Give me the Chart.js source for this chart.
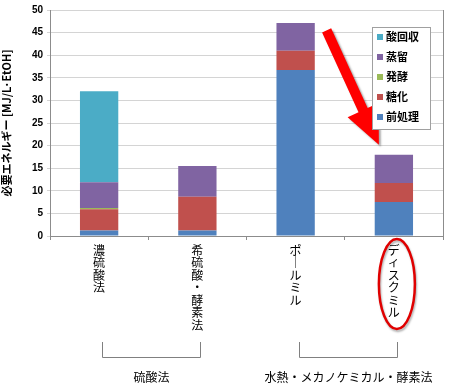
<!DOCTYPE html>
<html>
<head>
<meta charset="utf-8">
<script src="https://cdn.jsdelivr.net/npm/chart.js@4"></script>
<style>
  html, body { margin: 0; padding: 0; background: #fff; }
  #wrap { width: 450px; height: 386px; }
</style>
</head>
<body>
<div id="wrap"><canvas id="energyChart"></canvas></div>
<script>
const categories = [
  ['濃', '硫', '酸', '法'],
  ['希', '硫', '酸', '・', '酵', '素', '法'],
  ['ポ', '｜', 'ル', 'ミ', 'ル'],
  ['デ', 'ィ', 'ス', 'ク', 'ミ', 'ル']
];

const pretreat = [1.2, 1.2, 36.7, 7.5];
const saccharify = [4.7, 7.5, 4.3, 4.2];
const ferment = [0.3, 0, 0, 0];
const distill = [5.7, 6.8, 6.1, 6.3];
const acidRecovery = [20.1, 0, 0, 0];

const groups = [
  { label: '硫酸法', from: 0, to: 1 },
  { label: '水熱・メカノケミカル・酵素法', from: 2, to: 3 }
];

const jp = '"Noto Sans CJK JP", sans-serif';

// legend inside the plot, reversed order like the original
const boxLegend = {
  id: 'boxLegend',
  afterDraw(chart) {
    const ctx = chart.ctx;
    const a = chart.chartArea;
    const x0 = a.right - 71, y0 = a.top + 17;
    ctx.save();
    ctx.fillStyle = '#fff';
    ctx.strokeStyle = '#a0a0a0';
    ctx.lineWidth = 1;
    ctx.fillRect(x0, y0, 58, 102);
    ctx.strokeRect(x0 + 0.5, y0 + 0.5, 58, 102);
    const sets = chart.data.datasets.slice().reverse();
    ctx.font = 'bold 11px ' + jp;
    ctx.textBaseline = 'middle';
    sets.forEach((ds, i) => {
      const y = y0 + 10 + i * 20;
      ctx.fillStyle = ds.backgroundColor;
      ctx.fillRect(x0 + 5, y - 3, 6, 6);
      ctx.fillStyle = '#000';
      ctx.fillText(ds.label, x0 + 14, y);
    });
    ctx.restore();
  }
};

// plot border, arrow, ellipse, group brackets
const extras = {
  id: 'extras',
  beforeDatasetsDraw(chart) {
    const ctx = chart.ctx;
    const a = chart.chartArea;
    ctx.save();
    ctx.strokeStyle = '#8c8c8c';
    ctx.lineWidth = 1;
    ctx.beginPath();
    ctx.moveTo(a.right + 0.5, a.top);
    ctx.lineTo(a.right + 0.5, a.bottom);
    ctx.stroke();
    ctx.restore();
  },
  afterDraw(chart) {
    const ctx = chart.ctx;
    const xs = chart.scales.x, ys = chart.scales.y;
    const a = chart.chartArea;
    ctx.save();

    // red arrow
    const tipX = xs.getPixelForValue(3) - 15;
    const tipY = ys.getPixelForValue(20.2);
    const tailX = xs.getPixelForValue(2) + 31;
    const tailY = ys.getPixelForValue(45.5);
    const ang = Math.atan2(tipY - tailY, tipX - tailX);
    const headLen = 38, headW = 17, shaftW = 5;
    const bx = tipX - headLen * Math.cos(ang), by = tipY - headLen * Math.sin(ang);
    const nx = -Math.sin(ang), ny = Math.cos(ang);
    ctx.fillStyle = '#ff0000';
    ctx.shadowColor = 'rgba(0,0,0,0.35)';
    ctx.shadowOffsetX = 2;
    ctx.shadowOffsetY = 2;
    ctx.shadowBlur = 2;
    ctx.beginPath();
    ctx.moveTo(tailX + nx * shaftW, tailY + ny * shaftW);
    ctx.lineTo(bx + nx * shaftW, by + ny * shaftW);
    ctx.lineTo(bx + nx * headW, by + ny * headW);
    ctx.lineTo(tipX, tipY);
    ctx.lineTo(bx - nx * headW, by - ny * headW);
    ctx.lineTo(bx - nx * shaftW, by - ny * shaftW);
    ctx.lineTo(tailX - nx * shaftW, tailY - ny * shaftW);
    ctx.closePath();
    ctx.fill();

    // red ellipse around the last label
    ctx.strokeStyle = '#e00000';
    ctx.lineWidth = 2.5;
    ctx.shadowColor = 'rgba(0,0,0,0.3)';
    ctx.shadowOffsetX = 1;
    ctx.shadowOffsetY = 2;
    ctx.beginPath();
    ctx.ellipse(xs.getPixelForValue(3) + 3, a.bottom + 48, 18, 45, 0, 0, Math.PI * 2);
    ctx.stroke();
    ctx.shadowColor = 'transparent';

    // group brackets
    ctx.strokeStyle = '#808080';
    ctx.lineWidth = 1;
    ctx.fillStyle = '#000';
    ctx.font = '12px ' + jp;
    ctx.textAlign = 'center';
    ctx.textBaseline = 'middle';
    const top = a.bottom + 106, bot = a.bottom + 121;
    groups.forEach(g => {
      const x1 = Math.round(xs.getPixelForValue(g.from)) + 3.5;
      const x2 = Math.round(xs.getPixelForValue(g.to)) + 3.5;
      ctx.beginPath();
      ctx.moveTo(x1, top);
      ctx.lineTo(x1, bot + 0.5);
      ctx.lineTo(x2, bot + 0.5);
      ctx.lineTo(x2, top);
      ctx.stroke();
      ctx.fillText(g.label, (x1 + x2) / 2, a.bottom + 141);
    });
    ctx.restore();
  }
};

new Chart(document.getElementById('energyChart'), {
  type: 'bar',
  data: {
    labels: categories,
    datasets: [
      { label: '前処理', data: pretreat, backgroundColor: '#4f81bd' },
      { label: '糖化', data: saccharify, backgroundColor: '#c0504d' },
      { label: '発酵', data: ferment, backgroundColor: '#9bbb59' },
      { label: '蒸留', data: distill, backgroundColor: '#8064a2' },
      { label: '酸回収', data: acidRecovery, backgroundColor: '#4bacc6' }
    ]
  },
  options: {
    responsive: true,
    maintainAspectRatio: false,
    animation: false,
    layout: { padding: { top: 6, right: 7, left: 0, bottom: 0 } },
    plugins: {
      legend: { display: false },
      tooltip: { enabled: false }
    },
    datasets: { bar: { categoryPercentage: 1, barPercentage: 0.39 } },
    scales: {
      x: {
        stacked: true,
        grid: { offset: true, drawOnChartArea: false, color: '#8c8c8c', tickLength: 4 },
        border: { color: '#8c8c8c' },
        ticks: {
          maxRotation: 0,
          autoSkip: false,
          color: '#000',
          padding: 4,
          font: { family: jp, size: 12, lineHeight: 1.04 }
        },
        afterFit(s) { s.height = 150; }
      },
      y: {
        stacked: true,
        min: 0,
        max: 50,
        grid: { color: '#d4d4d4', tickLength: 3 },
        border: { color: '#8c8c8c' },
        ticks: {
          stepSize: 5,
          color: '#000',
          padding: 4,
          font: { family: '"Liberation Sans", Arial, sans-serif', size: 10, weight: 'bold' }
        },
        title: {
          display: true,
          text: '必要エネルギー [MJ/L·EtOH]',
          color: '#000',
          padding: { top: 0, bottom: 4 },
          font: { family: jp, size: 11, weight: 'bold' }
        },
        afterFit(s) { s.width = 50; }
      }
    }
  },
  plugins: [extras, boxLegend]
});
</script>
</body>
</html>
